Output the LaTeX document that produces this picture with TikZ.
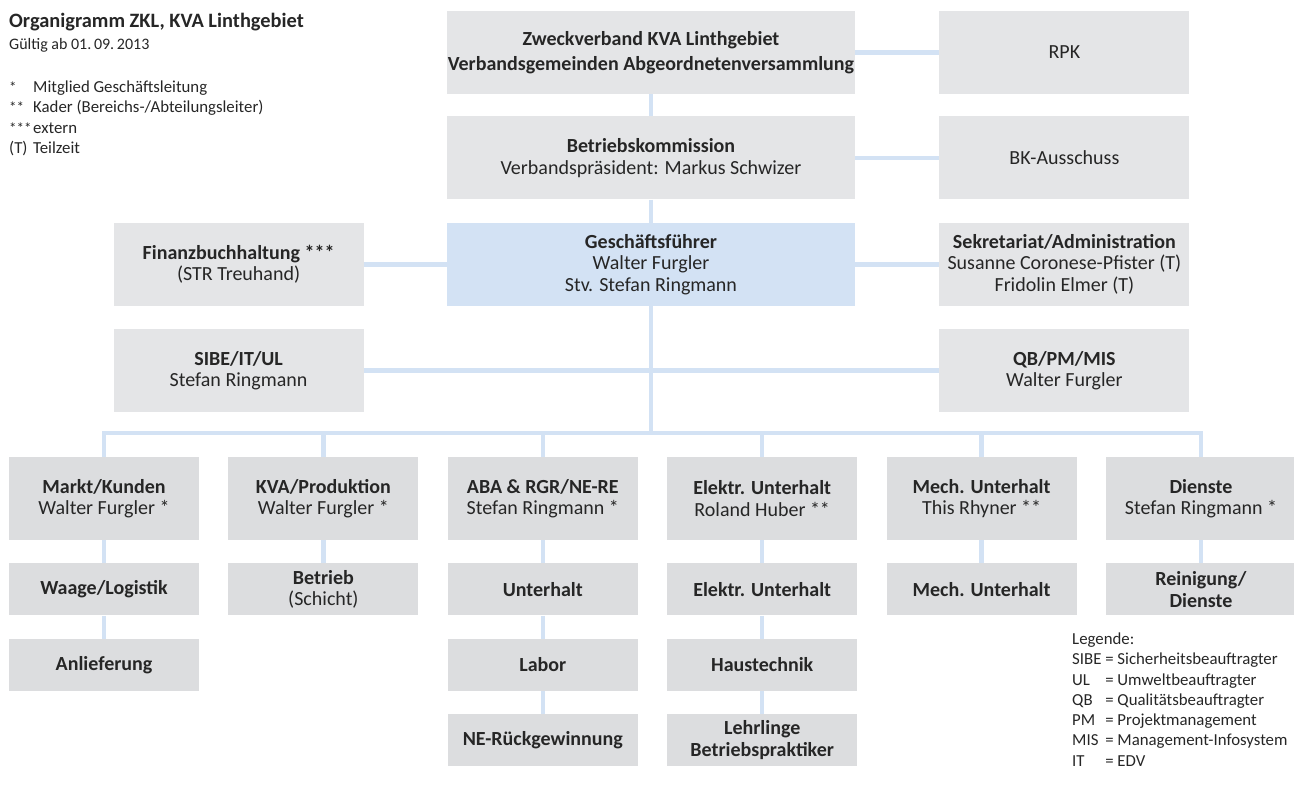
\documentclass[tikz,border=0pt]{standalone}
\usepackage{fontspec}
\setmainfont{Carlito}
\usetikzlibrary{positioning}
\definecolor{boxgray}{HTML}{E4E5E7}
\definecolor{deptgray}{HTML}{DCDDDF}
\definecolor{linkblue}{HTML}{D3E2F4}
\definecolor{inkgray}{HTML}{262626}
\newcommand{\sterne}[1]{{\fontsize{15}{15}\selectfont #1}}

\begin{document}
\begin{tikzpicture}[x=1pt,y=-1pt,align=center,node distance=22pt,
  font=\fontsize{20}{21.5}\selectfont,text=inkgray]
\tikzstyle{unit}=[rectangle,fill=boxgray,inner sep=0pt,minimum width=250pt,minimum height=83pt]
\tikzstyle{wide}=[unit,minimum width=408pt]
\tikzstyle{chief}=[wide,fill=linkblue]
\tikzstyle{dept}=[unit,fill=deptgray,minimum width=190pt]
\tikzstyle{team}=[dept,minimum height=52pt]
\tikzstyle{link}=[-,line width=4.5pt,draw=linkblue]
\tikzstyle{note}=[anchor=north west,align=left,inner sep=0pt,font=\fontsize{16.8}{20.3}\selectfont]

\useasboundingbox (0,0) rectangle (1294,787);

% Titel und Fussnoten
\node[note,font=\fontsize{20.4}{22}\selectfont\bfseries] (titel) at (9,13) {Organigramm ZKL, KVA Linthgebiet};
\node[note,font=\fontsize{16}{20}\selectfont] (datum) at (9,38) {Gültig ab 01.\,09.\,2013};
\node[note] (fussnoten) at (9,78) {\begin{tabular}{@{}p{24pt}@{}l@{}}
\sterne{*}   & Mitglied Geschäftsleitung\\
\sterne{**}  & Kader (Bereichs-/Abteilungsleiter)\\
\sterne{***} & extern\\
(T) & Teilzeit
\end{tabular}};

% Verband und Geschaeftsleitung
\node[wide] (zv) at (651,52.5) {\textbf{Zweckverband KVA Linthgebiet}\\[3pt]\textbf{Verbandsgemeinden Abgeordnetenversammlung}};
\node[unit] (rpk) [right = 84pt of zv] {RPK};
\node[wide] (bk) [below = of zv] {\textbf{Betriebskommission}\\Verbandspräsident: Markus Schwizer};
\node[unit] (bka) [right = 84pt of bk] {BK-Ausschuss};
\node[chief] (gf) [below = 23pt of bk] {\textbf{Geschäftsführer}\\Walter Furgler\\Stv. Stefan Ringmann};
\node[unit] (fibu) [left = 83pt of gf] {\textbf{Finanzbuchhaltung ***}\\(STR Treuhand)};
\node[unit] (sek) [right = 84pt of gf] {\textbf{Sekretariat/Administration}\\Susanne Coronese-Pfister (T)\\Fridolin Elmer (T)};
\node[unit] (sibe) [below = 23pt of fibu] {\textbf{SIBE/IT/UL}\\Stefan Ringmann};
\node[unit] (qb) [below = 23pt of sek] {\textbf{QB/PM/MIS}\\Walter Furgler};
\coordinate (bus) at (651,433);

% Bereiche
\node[dept] (markt) at (104,498.5) {\textbf{Markt/Kunden}\\Walter Furgler *};
\node[dept] (kva) [right = 29pt of markt] {\textbf{KVA/Produktion}\\Walter Furgler *};
\node[dept] (aba) [right = 29pt of kva] {\textbf{ABA \& RGR/NE-RE}\\Stefan Ringmann *};
\node[dept] (elek) [right = 29pt of aba] {\textbf{Elektr. Unterhalt}\\Roland Huber **};
\node[dept] (mech) [right = 29pt of elek] {\textbf{Mech. Unterhalt}\\This Rhyner **};
\node[dept] (dienste) [right = 29pt of mech] {\textbf{Dienste}\\Stefan Ringmann *};

\node[team] (waage) [below = 23pt of markt] {\textbf{Waage/Logistik}};
\node[team] (anlief) [below = 23pt of waage] {\textbf{Anlieferung}};
\node[team] (betrieb) [below = 23pt of kva] {\textbf{Betrieb}\\(Schicht)};
\node[team] (unterhalt) [below = 23pt of aba] {\textbf{Unterhalt}};
\node[team] (labor) [below = 23pt of unterhalt] {\textbf{Labor}};
\node[team] (neruck) [below = 23pt of labor] {\textbf{NE-Rückgewinnung}};
\node[team] (elunt) [below = 23pt of elek] {\textbf{Elektr. Unterhalt}};
\node[team] (haus) [below = 23pt of elunt] {\textbf{Haustechnik}};
\node[team] (lehr) [below = 23pt of haus] {\textbf{Lehrlinge}\\\textbf{Betriebspraktiker}};
\node[team] (mechunt) [below = 23pt of mech] {\textbf{Mech. Unterhalt}};
\node[team] (reinig) [below = 23pt of dienste] {\textbf{Reinigung/}\\\textbf{Dienste}};

\node[note] (legende) at (1072,630) {\begin{tabular}{@{}l@{\ }l@{}}
\multicolumn{2}{@{}l}{Legende:}\\
SIBE & = Sicherheitsbeauftragter\\
UL   & = Umweltbeauftragter\\
QB   & = Qualitätsbeauftragter\\
PM   & = Projektmanagement\\
MIS  & = Management-Infosystem\\
IT   & = EDV
\end{tabular}};

% Verbindungen
\draw[link] (zv) -- (rpk);
\draw[link] (bk) -- (bka);
\draw[link] (zv) -- (bk);
\draw[link] (bk) -- (gf);
\draw[link] (fibu) -- (gf);
\draw[link] (gf) -- (sek);
\draw[link] (sibe) -- (qb);
\draw[link] (gf) -- (bus);
\draw[link] (markt) |- (bus) -| (dienste);
\foreach \d in {kva,aba,elek,mech}
  \draw[link] (\d) -- (\d |- bus);
\draw[link] (markt) -- (waage) -- (anlief);
\draw[link] (kva) -- (betrieb);
\draw[link] (aba) -- (unterhalt) -- (labor) -- (neruck);
\draw[link] (elek) -- (elunt) -- (haus) -- (lehr);
\draw[link] (mech) -- (mechunt);
\draw[link] (dienste) -- (reinig);
\end{tikzpicture}
\end{document}
